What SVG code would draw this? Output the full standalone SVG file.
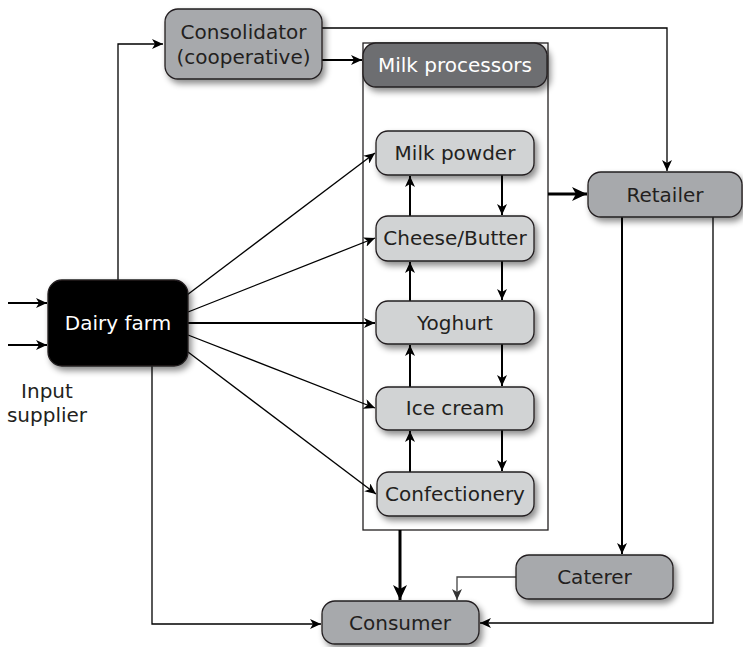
<svg xmlns="http://www.w3.org/2000/svg" width="743" height="647" viewBox="0 0 743 647">
<style>
  .box { stroke: #231f20; stroke-width: 1.3; filter: url(#sh); }
  .mid { fill: #a7a9ac; }
  .light { fill: #d1d3d4; }
  .dark { fill: #6d6e71; }
  .blk { fill: #000000; }
  text { font-family: "DejaVu Sans", "Liberation Sans", sans-serif; font-size: 20px; text-anchor: middle; fill: #231f20; }
  .wt { fill: #ffffff; }
  .c { fill: none; stroke: #000; stroke-width: 1.3; }
  .c2 { fill: none; stroke: #000; stroke-width: 2; }
  .c3 { fill: none; stroke: #000; stroke-width: 3; }
</style>
<defs>
  <filter id="sh" x="-20%" y="-30%" width="150%" height="170%">
    <feDropShadow dx="3" dy="4" stdDeviation="3" flood-color="#000" flood-opacity="0.45"/>
  </filter>
  <marker id="a" markerUnits="userSpaceOnUse" markerWidth="12" markerHeight="10" refX="11" refY="5" orient="auto">
    <path d="M0,0 L11,5 L0,10 L3,5 z" fill="#000"/>
  </marker>
  <marker id="ag" markerUnits="userSpaceOnUse" markerWidth="12" markerHeight="10" refX="11" refY="5" orient="auto">
    <path d="M0,0 L11,5 L0,10 L3,5 z" fill="#333"/>
  </marker>
  <marker id="ab" markerUnits="userSpaceOnUse" markerWidth="16" markerHeight="14" refX="15" refY="7" orient="auto">
    <path d="M0,0 L15,7 L0,14 L4,7 z" fill="#000"/>
  </marker>
</defs>

<rect id="processor-container" x="363" y="43" width="185" height="487" fill="none" stroke="#231f20" stroke-width="1.3"/>

<g id="connectors">
  <path class="c" d="M118,280 V44 H163" marker-end="url(#a)"/>
  <path class="c2" d="M322,60 H362" marker-end="url(#a)"/>
  <path class="c" d="M322,28 H667 V171" marker-end="url(#a)"/>
  <path class="c3" d="M548,194 H587" marker-end="url(#ab)"/>
  <path class="c" d="M187,295 L375,153" marker-end="url(#a)"/>
  <path class="c" d="M188,312 L375,238" marker-end="url(#a)"/>
  <path class="c2" d="M188,323 H375" marker-end="url(#a)"/>
  <path class="c" d="M188,335 L375,408" marker-end="url(#a)"/>
  <path class="c" d="M188,352 L376,494" marker-end="url(#a)"/>
  <path class="c2" d="M410,216 V176" marker-end="url(#a)"/>
  <path class="c2" d="M410,301 V262" marker-end="url(#a)"/>
  <path class="c2" d="M410,387 V345" marker-end="url(#a)"/>
  <path class="c2" d="M410,472 V431" marker-end="url(#a)"/>
  <path class="c2" d="M502,175 V215" marker-end="url(#a)"/>
  <path class="c2" d="M502,261 V300" marker-end="url(#a)"/>
  <path class="c2" d="M502,344 V386" marker-end="url(#a)"/>
  <path class="c2" d="M502,430 V471" marker-end="url(#a)"/>
  <path class="c2" d="M8,303 H47" marker-end="url(#a)"/>
  <path class="c2" d="M8,345 H47" marker-end="url(#a)"/>
  <path class="c2" d="M622,217 V554" marker-end="url(#a)"/>
  <path class="c" d="M713,217 V623 H480" marker-end="url(#a)"/>
  <path fill="none" stroke="#444" stroke-width="1.3" d="M516,577 H457 V600" marker-end="url(#ag)"/>
  <path class="c3" d="M400,530 V600" marker-end="url(#ab)"/>
  <path class="c" d="M152,366 V624 H321" marker-end="url(#a)"/>
</g>

<g id="consolidator">
  <rect class="box mid" x="165" y="9" width="157" height="70" rx="13"/>
  <text x="243.5" y="39">Consolidator</text>
  <text x="243.5" y="64">(cooperative)</text>
</g>
<g id="milk-processors">
  <rect class="box dark" x="363" y="43" width="184" height="44" rx="13"/>
  <text class="wt" x="455" y="72">Milk processors</text>
</g>
<g id="milk-powder">
  <rect class="box light" x="376" y="131" width="158" height="44" rx="12"/>
  <text x="455" y="160">Milk powder</text>
</g>
<g id="cheese-butter">
  <rect class="box light" x="376" y="216" width="158" height="45" rx="12"/>
  <text x="455" y="245">Cheese/Butter</text>
</g>
<g id="yoghurt">
  <rect class="box light" x="376" y="301" width="158" height="43" rx="12"/>
  <text x="455" y="330">Yoghurt</text>
</g>
<g id="ice-cream">
  <rect class="box light" x="376" y="387" width="158" height="43" rx="12"/>
  <text x="455" y="415">Ice cream</text>
</g>
<g id="confectionery">
  <rect class="box light" x="377" y="472" width="157" height="44" rx="12"/>
  <text x="455" y="501">Confectionery</text>
</g>
<g id="retailer">
  <rect class="box mid" x="588" y="172" width="154" height="45" rx="13"/>
  <text x="665" y="202">Retailer</text>
</g>
<g id="caterer">
  <rect class="box mid" x="516" y="555" width="157" height="44" rx="13"/>
  <text x="594.5" y="584">Caterer</text>
</g>
<g id="consumer">
  <rect class="box mid" x="322" y="601" width="157" height="43" rx="13"/>
  <text x="400" y="630">Consumer</text>
</g>
<g id="dairy-farm">
  <rect class="box blk" x="48" y="280" width="140" height="86" rx="14"/>
  <text class="wt" x="118" y="330">Dairy farm</text>
</g>
<g id="input-supplier">
  <text x="47" y="398">Input</text>
  <text x="47" y="422">supplier</text>
</g>
</svg>
